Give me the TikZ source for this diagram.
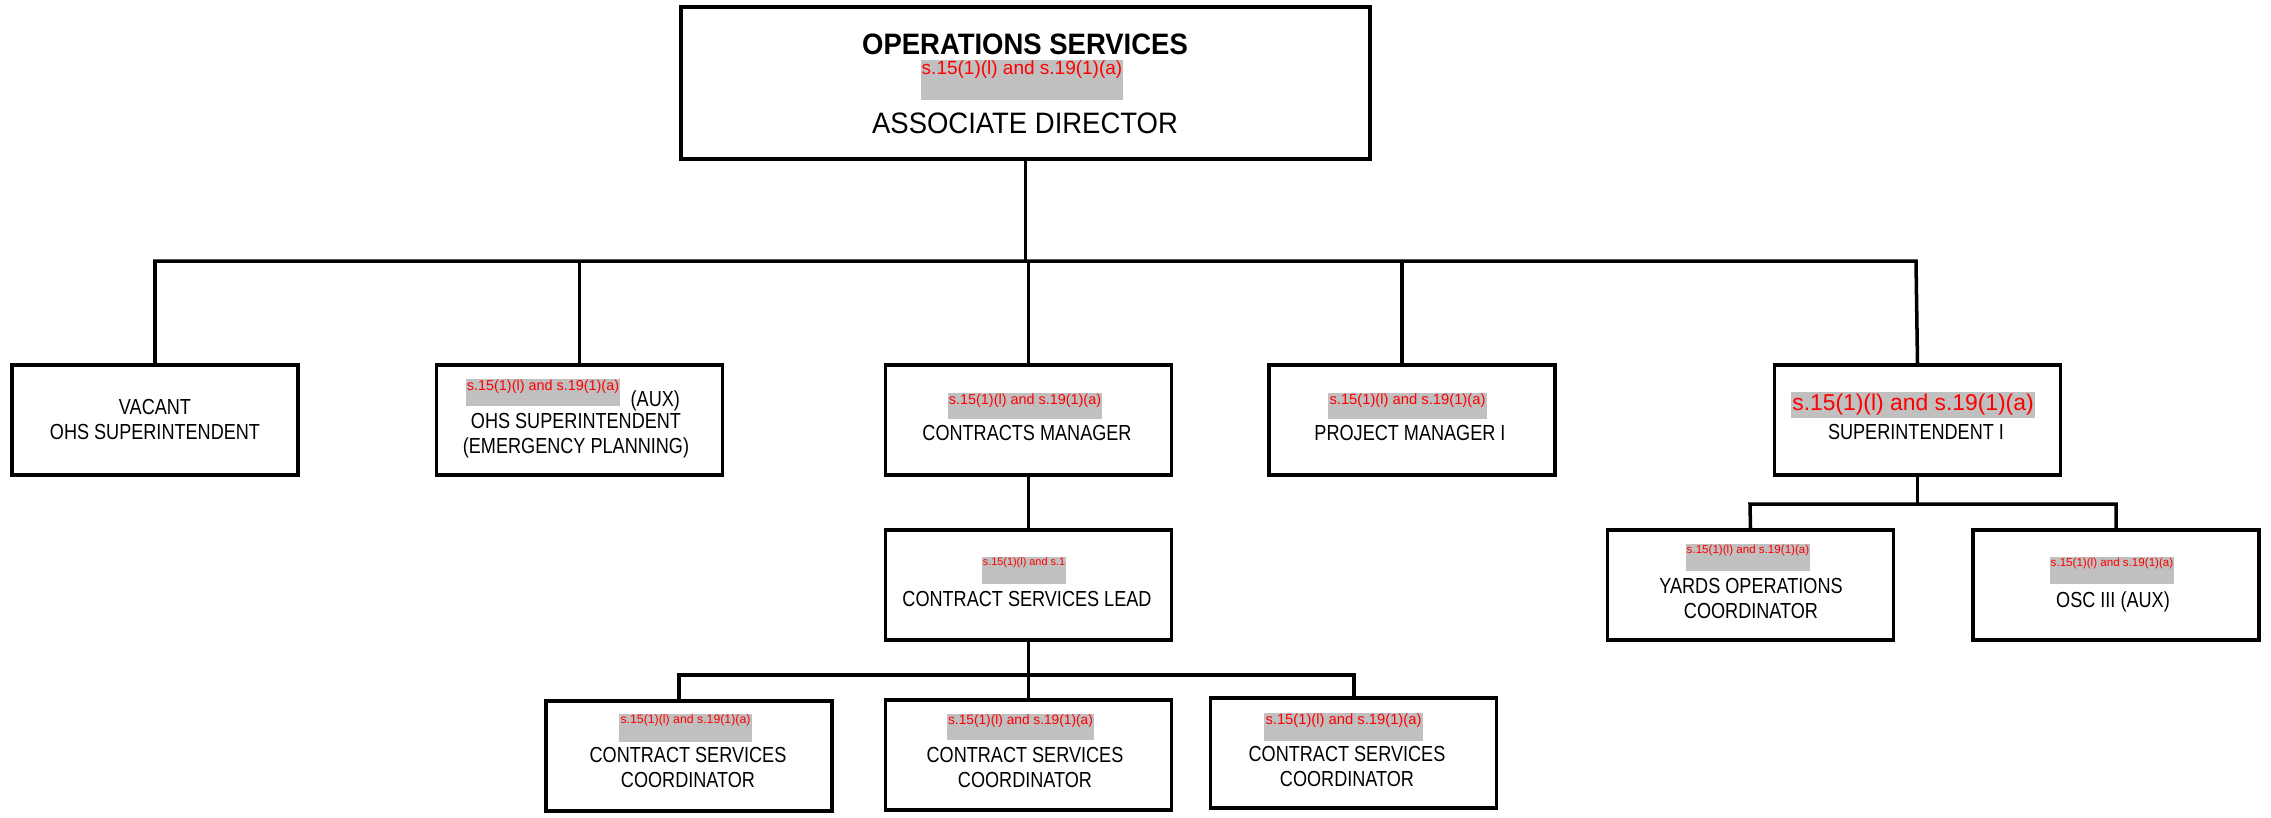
\documentclass[tikz,border=0pt]{standalone}
\usepackage{fontspec}
\setmainfont{Liberation Sans}
\newfontfamily\rowfam[FakeStretch=0.83]{Liberation Sans}
\newfontfamily\topfam[FakeStretch=0.93]{Liberation Sans}
\newfontfamily\redfam{Liberation Sans}
\definecolor{greybg}{HTML}{C0C0C0}
\definecolor{redtxt}{HTML}{FF0000}
\newcommand\rf[1]{\redfam\fontsize{#1pt}{#1pt}\selectfont}
\begin{document}
\begin{tikzpicture}[x=0.01cm,y=-0.01cm,
  box/.style={draw, line width=1pt, minimum width=2.86cm, minimum height=1.10cm, inner sep=0},
  conn/.style={line width=1pt},
  lbl/.style={font=\rowfam\fontsize{6.2pt}{7.1pt}\selectfont, align=center, inner sep=0, anchor=north},
  toplbl/.style={font=\topfam\fontsize{8.4pt}{8.4pt}\selectfont, inner sep=0, anchor=north},
  redact/.style={fill=greybg, text=redtxt, inner xsep=0.3pt, inner ysep=0pt, anchor=north}]
\useasboundingbox (0,0) rectangle (2271,817);

% boxes
\node[box, minimum width=6.89cm, minimum height=1.52cm] (top) at (1025.5,83) {};
\node[box] (vac) at (155,420) {};
\node[box] (ohs) at (579.5,420) {};
\node[box] (cm) at (1028.5,420) {};
\node[box] (pm) at (1412,420) {};
\node[box] (si) at (1917.5,420) {};
\node[box] (csl) at (1028.5,585) {};
\node[box] (c1) at (689,756) {};
\node[box] (c2) at (1028.5,755) {};
\node[box] (c3) at (1353.5,753) {};
\node[box] (yc) at (1750.5,585) {};
\node[box] (osc) at (2116,585) {};

% main bus
\coordinate (busL) at (155,261);
\coordinate (busR) at (1916,261);
\draw[conn] (vac.north) -- (busL) -- (busR) -- (si.north);
\draw[conn] (top.south) -- (top.south |- busL);
\draw[conn] (ohs.north) -- (ohs.north |- busL);
\draw[conn] (cm.north) -- (cm.north |- busL);
\coordinate (pmdrop) at (1402,365);
\draw[conn] (pmdrop) -- (pmdrop |- busL);

% contracts subtree
\draw[conn] (cm.south) -- (csl.north);
\coordinate (b2L) at (679,675);
\coordinate (b2R) at (1354,675);
\draw[conn] (b2L |- c1.north) -- (b2L) -- (b2R) -- (b2R |- c3.north);
\draw[conn] (csl.south) -- (csl.south |- b2L);
\draw[conn] (c2.north) -- (c2.north |- b2L);

% superintendent subtree
\coordinate (b3L) at (1750,504);
\coordinate (b3R) at (2116,504);
\draw[conn] (yc.north) -- (b3L) -- (b3R) -- (osc.north);
\draw[conn] (si.south) -- (si.south |- b3L);

% top texts
\node[toplbl, font=\topfam\bfseries\fontsize{8.4pt}{8.4pt}\selectfont] (t1) at (1025,33) {OPERATIONS SERVICES};
\node[redact, font=\rf{5.4}, text height=4.3pt, text depth=7.1pt] (r0) at (1022,59) {s.15(1)(l) and s.19(1)(a)};
\node[toplbl] (t2) at (1025,112) {ASSOCIATE DIRECTOR};

% row 1 texts
\node[lbl] (l1) at (155,399) {VACANT\\OHS SUPERINTENDENT};
\node[redact, font=\rf{4.1}, text height=3.3pt, text depth=4.4pt] (r2) at (543,378) {s.15(1)(l) and s.19(1)(a)};
\node[lbl, anchor=north west] (aux) at (630,390) {(AUX)};
\node[lbl] (l2) at (576,413) {OHS SUPERINTENDENT\\(EMERGENCY PLANNING)};
\node[redact, font=\rf{4.1}, text height=3.3pt, text depth=4.1pt] (r3) at (1025,392) {s.15(1)(l) and s.19(1)(a)};
\node[lbl] (l3) at (1027,425) {CONTRACTS MANAGER};
\node[redact, font=\rf{4.2}, text height=3.4pt, text depth=4.0pt] (r4) at (1407.5,392) {s.15(1)(l) and s.19(1)(a)};
\node[lbl] (l4) at (1410,425) {PROJECT MANAGER I};
\node[redact, font=\rf{6.5}, text height=5.4pt, text depth=2.0pt] (r5) at (1913,391) {s.15(1)(l) and s.19(1)(a)};
\node[lbl] (l5) at (1916,424) {SUPERINTENDENT I};

% row 2 texts
\node[redact, font=\rf{3.1}, text height=2.6pt, text depth=5.1pt] (r6) at (1024,556) {s.15(1)(l) and s.1};
\node[lbl] (l6) at (1027,591) {CONTRACT SERVICES LEAD};
\node[redact, font=\rf{3.3}, text height=2.8pt, text depth=4.9pt] (r7) at (1748,543) {s.15(1)(l) and s.19(1)(a)};
\node[lbl] (l7) at (1751,578) {YARDS OPERATIONS\\COORDINATOR};
\node[redact, font=\rf{3.3}, text height=2.8pt, text depth=4.9pt] (r8) at (2112,556) {s.15(1)(l) and s.19(1)(a)};
\node[lbl] (l8) at (2113,591) {OSC III (AUX)};

% row 3 texts
\node[redact, font=\rf{3.5}, text height=2.9pt, text depth=5.1pt] (r9) at (685.5,713) {s.15(1)(l) and s.19(1)(a)};
\node[lbl] (l9) at (688,747) {CONTRACT SERVICES\\COORDINATOR};
\node[redact, font=\rf{3.9}, text height=3.2pt, text depth=4.2pt] (r10) at (1020.5,713) {s.15(1)(l) and s.19(1)(a)};
\node[lbl] (l10) at (1025,747) {CONTRACT SERVICES\\COORDINATOR};
\node[redact, font=\rf{4.2}, text height=3.4pt, text depth=4.6pt] (r11) at (1343.5,712) {s.15(1)(l) and s.19(1)(a)};
\node[lbl] (l11) at (1347,746) {CONTRACT SERVICES\\COORDINATOR};
\end{tikzpicture}
\end{document}
